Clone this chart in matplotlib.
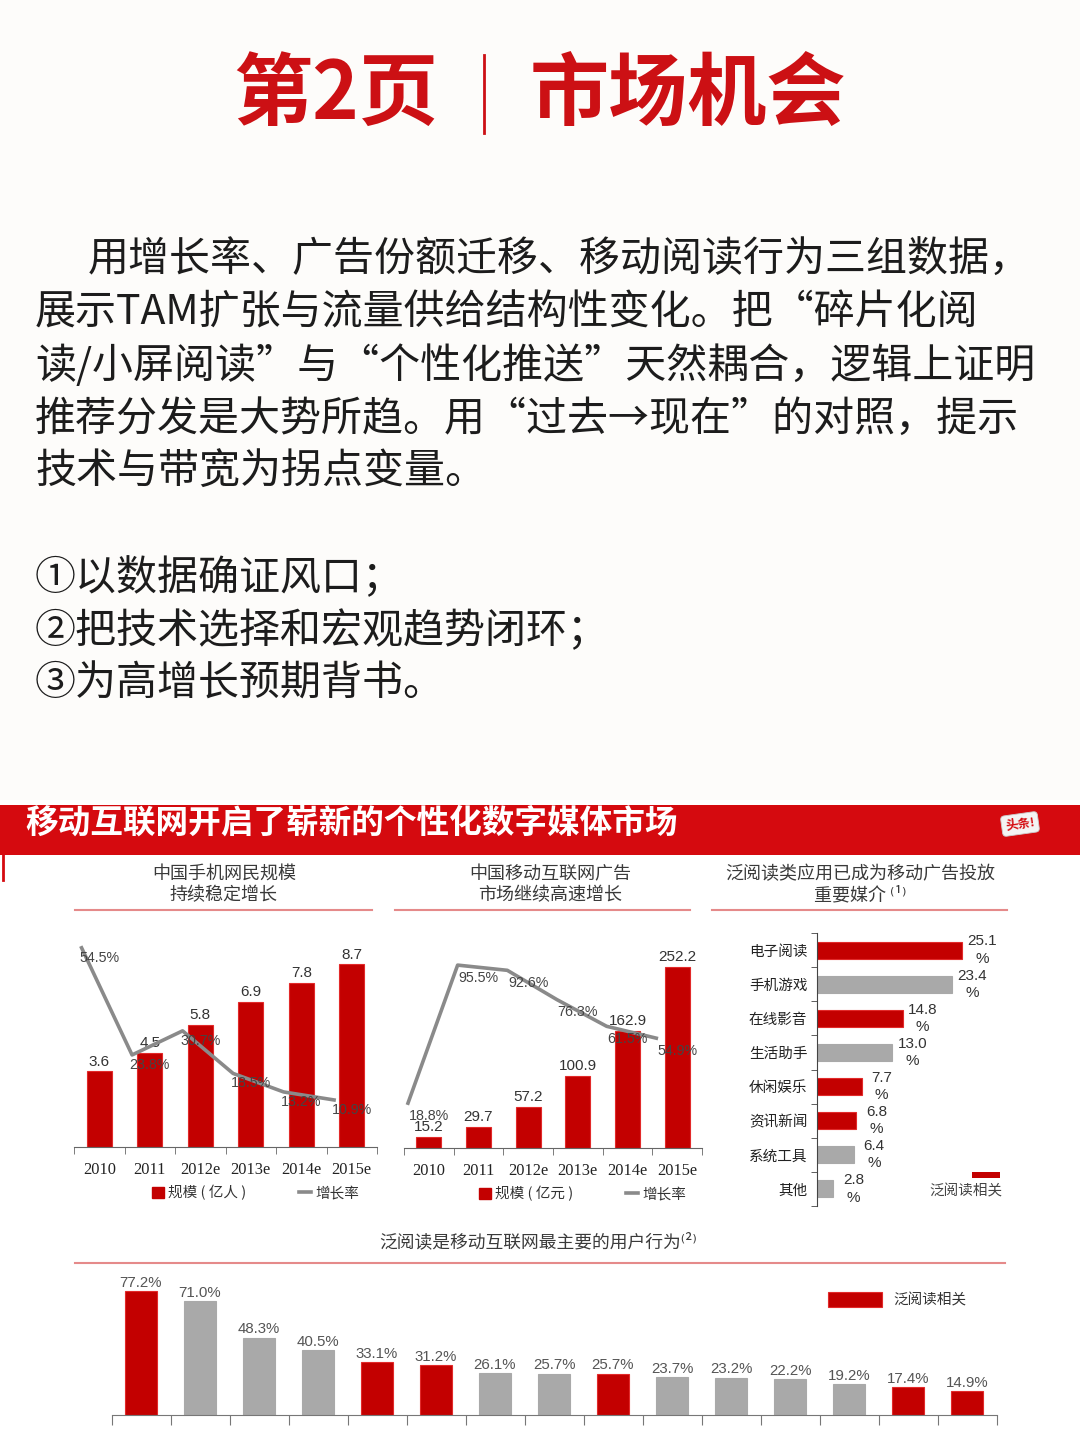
import matplotlib
matplotlib.use("Agg")
import matplotlib.pyplot as plt
from matplotlib.patches import Rectangle
from matplotlib.lines import Line2D
import numpy as np

plt.rcParams['font.family'] = ['Noto Sans CJK SC', 'DejaVu Sans']

W, H = 1080, 1443
RED = '#c30000'
RED_EDGE = '#e22a2a'
GREY = '#a9a9a9'
LINE_GREY = '#8a8a8a'
TXT = '#333333'

# --- data ---
years = ['2010', '2011', '2012e', '2013e', '2014e', '2015e']
users = [3.6, 4.5, 5.8, 6.9, 7.8, 8.7]
users_growth = [54.5, 23.8, 30.7, 18.5, 13.2, 10.9]
ad_size = [15.2, 29.7, 57.2, 100.9, 162.9, 252.2]
ad_growth = [18.8, 95.5, 92.6, 76.3, 61.5, 54.9]

media = ['电子阅读', '手机游戏', '在线影音', '生活助手', '休闲娱乐', '资讯新闻', '系统工具', '其他']
media_share = [25.1, 23.4, 14.8, 13.0, 7.7, 6.8, 6.4, 2.8]
media_reading = [True, False, True, False, True, True, False, False]

behavior = [77.2, 71.0, 48.3, 40.5, 33.1, 31.2, 26.1, 25.7, 25.7, 23.7, 23.2, 22.2, 19.2, 17.4, 14.9]
behavior_reading = [True, False, False, False, True, True, False, False, True,
                    False, False, False, False, True, True]

body_lines = [
    '用增长率、广告份额迁移、移动阅读行为三组数据，',
    '展示TAM扩张与流量供给结构性变化。把“碎片化阅',
    '读/小屏阅读”与“个性化推送”天然耦合，逻辑上证明',
    '推荐分发是大势所趋。用“过去→现在”的对照，提示',
    '技术与带宽为拐点变量。',
]
points = ['①以数据确证风口；', '②把技术选择和宏观趋势闭环；', '③为高增长预期背书。']

fig = plt.figure(figsize=(W / 100, H / 100), dpi=100)
fig.patch.set_facecolor('#fdfcfa')


def px_axes(x0, y0, x1, y1):
    ax = fig.add_axes([x0 / W, 1 - y1 / H, (x1 - x0) / W, (y1 - y0) / H])
    ax.set_zorder(5)
    return ax


def ftext(x, y, s, **kw):
    return fig.text(x / W, 1 - y / H, s, **kw)


def frect(x0, y0, x1, y1, **kw):
    fig.add_artist(Rectangle((x0 / W, 1 - y1 / H), (x1 - x0) / W, (y1 - y0) / H,
                             transform=fig.transFigure, **kw))


def fline(x0, y0, x1, y1, **kw):
    fig.add_artist(Line2D([x0 / W, x1 / W], [1 - y0 / H, 1 - y1 / H],
                          transform=fig.transFigure, **kw))


# --- header ---
ftext(336, 95, '第2页', fontsize=57, fontweight='bold', color='#cc1014', ha='center', va='center')
ftext(688, 95, '市场机会', fontsize=57, fontweight='bold', color='#cc1014', ha='center', va='center')
fline(484, 55, 484, 133, color='#cc1014', lw=2)

for i, s in enumerate(body_lines):
    ftext(88 if i == 0 else 35, 260 + 53 * i, s, fontsize=29.5, color='#1c1c1c', va='center')
for i, s in enumerate(points):
    ftext(35, 578 + 53 * i, s, fontsize=29.5, color='#1c1c1c', va='center')

# --- embedded report ---
frect(0, 800, W, H, facecolor='white', edgecolor='none', zorder=-5)
frect(0, 805, W, 855, facecolor='#d50a0f', edgecolor='none')
fline(3, 855, 3, 880, color='#d50a0f', lw=2)
ftext(25, 823, '移动互联网开启了崭新的个性化数字媒体市场', fontsize=23.5, fontweight='bold',
      color='white', va='center')
ftext(1020, 824, '头条!', fontsize=9, fontweight='bold', color='#d50a0f', ha='center', va='center',
      rotation=8, bbox=dict(boxstyle='round,pad=0.3', fc='#f4f4f4', ec='#cccccc', lw=0.6))

titles = [
    (224, '中国手机网民规模', '持续稳定增长', 75, 372),
    (550, '中国移动互联网广告', '市场继续高速增长', 395, 690),
    (860, '泛阅读类应用已成为移动广告投放', '重要媒介 ⁽¹⁾', 712, 1007),
]
for cx, t1, t2, u0, u1 in titles:
    ftext(cx, 874, t1, fontsize=13, color='#3a3a3a', ha='center', va='center')
    ftext(cx, 895, t2, fontsize=13, color='#3a3a3a', ha='center', va='center')
    fline(u0, 910, u1, 910, color='#e58a8a', lw=1.5)


def combo(box, sizes, growth, ymax, glim, shift, gdy, unit):
    ax = px_axes(*box)
    x = np.arange(len(years))
    ax.bar(x, sizes, width=0.5, color=RED, edgecolor=RED_EDGE, lw=0.8, zorder=2)
    ax.set_xlim(-0.5, 5.5)
    ax.set_ylim(0, ymax)
    for xi, v in zip(x, sizes):
        ax.annotate(f'{v}', (xi, v), xytext=(0, 2), textcoords='offset points',
                    ha='center', va='bottom', fontsize=11, color=TXT, family='Liberation Sans')
    for s in ['top', 'right', 'left']:
        ax.spines[s].set_visible(False)
    ax.spines['bottom'].set_color('#666666')
    ax.set_yticks([])
    ax.set_xticks(x)
    ax.set_xticklabels(years, family='Liberation Serif', fontsize=11.8, color='#222222')
    ax.set_xticks(np.arange(-0.5, 6, 1), minor=True)
    ax.tick_params(axis='x', which='major', length=0, pad=11)
    ax.tick_params(axis='x', which='minor', length=5, color='#666666')
    ax.patch.set_alpha(0)

    ax2 = ax.twinx()
    ax2.plot(x + shift, growth, color=LINE_GREY, lw=2.6, zorder=3)
    ax2.set_ylim(*glim)
    for xi, g in zip(x, growth):
        ax2.annotate(f'{g}%', (xi, g), xytext=(0, gdy), textcoords='offset points',
                     ha='center', va='center', fontsize=10.3, color='#444444',
                     family='Liberation Sans')
    ax2.axis('off')

    handles = [Rectangle((0, 0), 1, 1, color=RED), Line2D([], [], color=LINE_GREY, lw=2.6)]
    ax.legend(handles, [f'规模 ( {unit} )', '增长率'], ncol=2, frameon=False, loc='center',
              bbox_to_anchor=(0.6, -0.215), fontsize=10.5, handlelength=0.8, handleheight=0.8,
              handletextpad=0.3, columnspacing=3.6, labelcolor='#333333')
    return ax


combo((74, 935, 377, 1147), users, users_growth, 212 / 21, (-9 / 3.49, 212 / 3.49 - 9 / 3.49),
      -0.35, -7, '亿人')
combo((404, 935, 702, 1148), ad_size, ad_growth, 213 / 0.717, (-11 / 1.8, 213 / 1.8 - 11 / 1.8),
      -0.42, -9, '亿元')

# --- media share horizontal bars ---
ax3 = px_axes(817, 933, 1010, 1206)
y = np.arange(len(media))
ax3.barh(y, media_share, height=0.5,
         color=[RED if r else GREY for r in media_reading],
         edgecolor=[RED_EDGE if r else GREY for r in media_reading], lw=0.8)
ax3.set_ylim(len(media) - 0.5, -0.5)
ax3.set_xlim(0, 193 / 5.78)
for yi, v in zip(y, media_share):
    ax3.annotate(f'{v:.1f}\n%', (v, yi), xytext=(14.5, 0), textcoords='offset points',
                 ha='center', va='center', fontsize=11, color=TXT, linespacing=1.3,
                 family='Liberation Sans')
for s in ['top', 'right', 'bottom']:
    ax3.spines[s].set_visible(False)
ax3.spines['left'].set_color('#444444')
ax3.set_xticks([])
ax3.set_yticks(y)
ax3.set_yticklabels(media, fontsize=10.5, color='#222222')
ax3.set_yticks(np.arange(-0.5, len(media), 1), minor=True)
ax3.tick_params(axis='y', which='major', length=0, pad=7)
ax3.tick_params(axis='y', which='minor', length=4, color='#444444')
ax3.patch.set_alpha(0)
frect(972, 1172, 1000, 1178, facecolor=RED, edgecolor='none')
ftext(966, 1191, '泛阅读相关', fontsize=10.5, color='#444444', ha='center', va='center')

# --- user behaviour bars ---
ftext(538, 1242, '泛阅读是移动互联网最主要的用户行为⁽²⁾', fontsize=12.8, color='#3a3a3a',
      ha='center', va='center')
fline(75, 1263, 1005, 1263, color='#e58a8a', lw=1.5)

ax4 = px_axes(111.5, 1270, 996.5, 1415)
xb = np.arange(len(behavior))
ax4.bar(xb, behavior, width=0.54,
        color=[RED if r else GREY for r in behavior_reading],
        edgecolor=[RED_EDGE if r else GREY for r in behavior_reading], lw=0.8)
ax4.set_xlim(-0.5, len(behavior) - 0.5)
ax4.set_ylim(0, 145 / 1.6)
for xi, v in zip(xb, behavior):
    ax4.annotate(f'{v:.1f}%', (xi, v), xytext=(0, 1), textcoords='offset points',
                 ha='center', va='bottom', fontsize=10.8, color='#555555',
                 family='Liberation Sans')
for s in ['top', 'right', 'left']:
    ax4.spines[s].set_visible(False)
ax4.spines['bottom'].set_color('#777777')
ax4.set_yticks([])
ax4.set_xticks(np.arange(-0.5, len(behavior), 1))
ax4.set_xticklabels([])
ax4.tick_params(axis='x', length=7, color='#777777')
ax4.patch.set_alpha(0)
frect(828, 1292, 882, 1307, facecolor=RED, edgecolor=RED_EDGE, lw=0.8)
ftext(893, 1300, '泛阅读相关', fontsize=10.5, color='#333333', va='center')

fig.savefig('out.png', dpi=100, facecolor=fig.get_facecolor())
